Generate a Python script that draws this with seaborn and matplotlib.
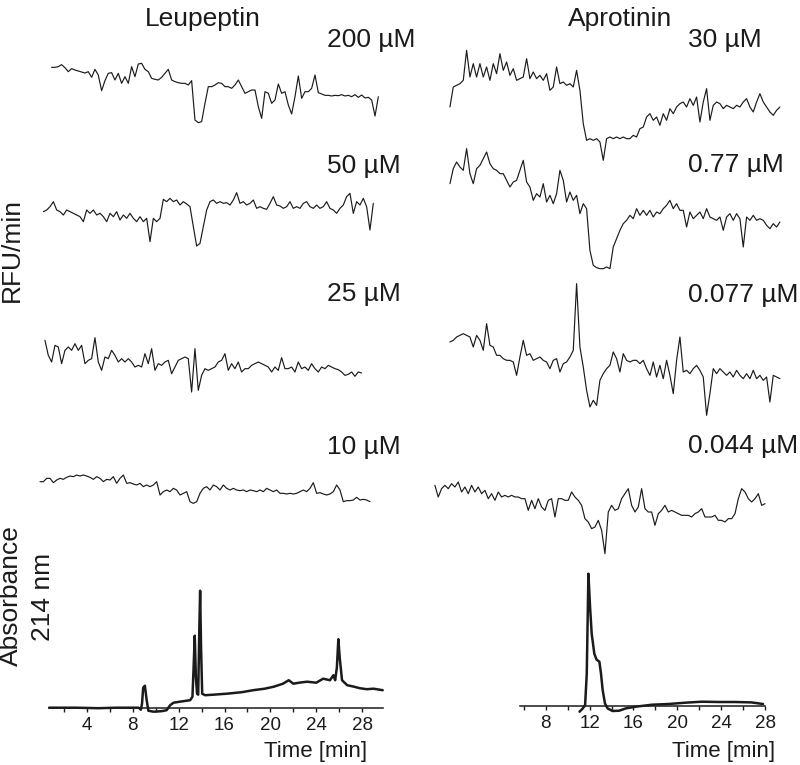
import numpy as np
import matplotlib
matplotlib.use('Agg')
import matplotlib.pyplot as plt
import seaborn as sns
from matplotlib.ticker import MultipleLocator

leu_200 = [68, 68, 70, 76, 67, 55, 64, 60, 57, 54,
           51, 55, 38, 62, 45, -2, 28, 50, 52, 30,
           50, 20, 40, 20, 70, 40, 78, 80, 62, 55,
           35, 32, 30, 38, 50, 62, 30, 25, 22, 20,
           20, 15, 28, -90, -98, -95, -40, 10, 10, 15,
           22, 20, 10, 10, 5, 15, 30, 10, -10, -5,
           0, 0, -50, -85, -5, -10, -40, -30, 18, -10,
           -5, -45, -72, -20, 42, -25, -5, -5, 5, 45,
           -8, -12, -16, -16, -18, -16, -17, -14, -18, -16,
           -20, -14, -22, -15, -24, -22, -30, -78, -20]
leu_50 = [-5, 0, 10, 25, 0, -5, -15, 0, -5, -10,
          -15, -20, -35, 0, -10, 0, -15, -10, -20, -35,
          -10, -20, -5, -30, -15, -25, -10, -25, -35, -20,
          -35, -25, -95, -25, -35, -25, 32, 25, 35, 25,
          30, 15, 25, 18, 10, -50, -108, -100, -50, 0,
          25, 30, 20, 25, 20, 22, 15, 30, 52, 20,
          25, 15, 20, 30, 5, 10, 5, 2, 20, 40,
          15, 12, 5, 10, 25, 5, 10, 5, 20, 25,
          10, 5, 15, 5, 10, 25, 5, 0, -10, 5,
          15, 40, 50, -10, 25, 15, 35, 10, -60, 20]
leu_25 = [80, 35, 15, 65, 60, 10, 50, 60, 50, 70,
          50, 65, 10, 20, 25, 88, 15, -10, 30, 25,
          50, 35, 15, 25, 15, 25, 15, 0, 5, 0,
          40, 10, 55, -10, 10, 5, 15, 20, -20, 0,
          20, 25, 30, 25, -75, 55, -70, -25, -5, -10,
          -5, 0, 15, 20, 40, -10, 10, -5, 15, -15,
          -5, -5, 5, 10, 15, 10, 5, 0, -15, 0,
          -10, 28, -5, -5, 0, -15, 15, -5, 0, -10,
          10, -5, -15, 0, -5, 5, 0, -5, -8, -15,
          -25, -22, -15, -28, -15, -18]
leu_10 = [25, 25, 35, 35, 22, 30, 35, 32, 38, 42,
          40, 45, 42, 45, 42, 38, 32, 40, 35, 25,
          32, 30, 40, 20, 35, 45, 20, 22, 18, 15,
          20, 10, 15, 10, 15, 25, -15, -5, 0, -5,
          5, 0, -15, -10, -5, -35, -40, -35, -10, 5,
          10, 0, 15, 10, 0, 15, 5, 0, 5, 0,
          -2, 0, -5, 0, -2, -5, 0, -5, 5, 0,
          -5, 0, -10, -10, -12, -10, -12, -10, -5, 0,
          -5, 5, 22, -10, -8, -12, -15, -12, -5, 15,
          0, -35, -32, -32, -30, -22, -30, -28, -30, -35]

apr_30 = [0, 60, 65, 70, 80, 170, 90, 130, 90, 130,
          90, 120, 80, 130, 100, 160, 110, 135, 95, 115,
          80, 85, 90, 145, 85, 105, 85, 95, 80, 100,
          50, 60, 120, 70, 75, 65, 70, 60, 110, 50,
          -50, -100, -95, -100, -95, -105, -160, -95, -90, -95,
          -90, -95, -90, -95, -95, -85, -90, -65, -60, -30,
          -20, -40, -30, -55, -20, -40, -5, -20, 0, 10,
          15, 0, 25, 5, 30, -45, 15, 55, -40, 5,
          15, 10, -5, 5, 0, -5, 5, 0, 15, 25,
          0, -15, 15, 40, 15, 0, -15, -25, -10, 0]
apr_077 = [100, 145, 165, 150, 140, 205, 130, 100, 145, 155,
           175, 195, 160, 145, 140, 130, 130, 110, 90, 105,
           110, 140, 170, 105, 90, 50, 70, 60, 100, 45,
           65, 40, 70, 140, 110, 45, 75, 50, 65, 10,
           40, 25, -100, -145, -152, -155, -155, -150, -155, -90,
           -65, -40, -20, -10, 5, -5, 25, 5, 20, 5,
           20, 0, 15, 10, 25, 35, 50, 25, 40, 20,
           20, -30, 15, -5, 5, 15, -5, 25, 0, -5,
           -10, 0, -40, 0, 10, -10, 10, -5, -90, 0,
           -10, 5, -10, -5, -10, -25, -35, -20, -30, -15]
apr_0077 = [45, 50, 60, 65, 70, 65, 60, 30, 65, 50,
            20, 100, 35, 30, 5, 5, -5, -10, -10, -15,
            -55, 0, 50, 5, 10, -10, -5, 0, -10, -15,
            -35, -10, -5, -45, -20, -15, 0, 20, 220, 30,
            -30, -100, -150, -130, -145, -70, -50, -35, -25, 15,
            -5, -45, 10, -10, -15, -10, -10, -20, -10, -35,
            -55, -15, -60, -25, -65, -10, -55, -110, -10, 60,
            -45, -40, -50, -35, -25, -40, -60, -175, -110, -35,
            -50, -35, -45, -55, -45, -60, -40, -55, -65, -50,
            -65, -40, -65, -55, -70, -60, -135, -55, -60, -65]
apr_0044 = [65, 30, 55, 65, 55, 70, 60, 75, 45, 60,
            40, 65, 45, 60, 40, 50, 25, 40, 20, 45,
            30, 35, 30, 35, 30, 30, 25, 25, -10, 20,
            -5, 25, 0, -10, 20, 25, -30, 25, 25, 20,
            20, 45, 30, 20, 5, -35, -45, -65, -60, -40,
            -70, -140, -15, 5, -10, -5, 25, 40, 55, 5,
            -15, 0, 55, -5, -15, -15, -55, -20, -10, 5,
            -15, -10, -15, -20, -25, -25, -25, -30, -20, -15,
            -5, -30, -30, -30, -25, -40, -40, -45, -35, -35,
            -20, 25, 55, 45, 25, 15, 25, 40, 5, 10]

# first and last time of each trace [min]
leu_span = {'200': (0.91, 29.42), '50': (0.19, 28.98), '25': (0.33, 27.96), '10': (-0.10, 28.69)}
apr_span = {'30': (-0.69, 29.17), '0.77': (-0.69, 29.17), '0.077': (-0.69, 29.17), '0.044': (-2.05, 27.82)}

# absorbance 214 nm chromatograms
leu_abs_t = [0.7, 3.0, 5.0, 6.6, 8.5, 8.7, 8.8, 8.9, 9.05, 9.2, 9.35, 9.8, 10.5, 10.95,
             11.25, 11.55, 12.1, 13.0, 13.2, 13.3, 13.4, 13.5, 13.6, 13.7, 13.8, 13.87,
             13.95, 14.05, 14.3, 15.0, 16.2, 17.5, 18.5, 19.5, 20.3, 21.1, 21.6, 22.0,
             22.5, 23.2, 24.0, 24.6, 25.2, 25.5, 25.65, 25.8, 25.93, 26.05, 26.25, 26.7,
             27.3, 27.8, 28.4, 29.0, 29.8]
leu_abs = [0, 0, -0.5, 0, 0, -2, 4, 20, 22, 8, -3, -4, -3.5, -2.5,
           2.5, 5, 6, 7.5, 11, 40, 72, 30, 14, 13, 80, 117,
           60, 14, 12.5, 13, 14, 15.5, 17.5, 19, 21, 24, 27.5, 24,
           25, 26, 25, 29, 27.5, 32.5, 27.5, 40, 68.5, 50, 27.5, 22.5,
           21, 19.5, 18.5, 19, 17.5]
apr_abs_t = [11.08, 11.38, 11.59, 11.74, 11.89, 12.04, 12.19, 12.43, 12.64, 12.89, 13.04,
             13.19, 13.4, 13.64, 14.09, 14.7, 15.3, 16.2, 17.7, 19.2, 20.73, 22.24, 23.75,
             25.25, 26.76, 27.82]
apr_abs = [-6, -2.7, 0.7, 32, 132, 99, 72, 52, 46, 44, 32,
           15.7, 2.3, -2.7, -5.3, -5, -2.7, -1, 1, 1.7, 3, 4, 3.7,
           3.7, 3.3, 1.7]

leu_ticks = [4, 8, 12, 16, 20, 24, 28]
apr_ticks = [8, 12, 16, 20, 24, 28]

sns.set_style('white')
plt.rcParams['font.family'] = ['Liberation Sans', 'DejaVu Sans']

W, H = 800, 765
fig = plt.figure(figsize=(8, 7.65), dpi=100)
ink = '#1b1b1b'


def box(x0, x1, ytop, ybot):
    return fig.add_axes([x0 / W, 1 - ybot / H, (x1 - x0) / W, (ybot - ytop) / H])


def ftext(x, y, s, **kw):
    fig.text(x / W, 1 - y / H, s, color=ink, **kw)


cols = [
    dict(x0=49.2, x1=382.7, xlim=(0.7, 29.8)),
    dict(x0=520.0, x1=765.0, xlim=(5.65, 27.82)),
]

# traces: (column, values, span, zero line in px)
traces = [
    (0, leu_200, leu_span['200'], 90),
    (0, leu_50, leu_span['50'], 210),
    (0, leu_25, leu_span['25'], 367),
    (0, leu_10, leu_span['10'], 490),
    (1, apr_30, apr_span['30'], 107),
    (1, apr_077, apr_span['0.77'], 217),
    (1, apr_0077, apr_span['0.077'], 357),
    (1, apr_0044, apr_span['0.044'], 507),
]

for c, vals, span, y0 in traces:
    col = cols[c]
    ax = box(col['x0'], col['x1'], y0 - 250 / 3, y0 + 200 / 3)
    t = np.linspace(span[0], span[1], len(vals))
    sns.lineplot(x=t, y=vals, ax=ax, color=ink, linewidth=0.85, estimator=None, clip_on=False)
    ax.set_xlim(*col['xlim'])
    ax.set_ylim(-200, 250)
    ax.axis('off')

# chromatograms
chrom = [
    (0, leu_abs_t, leu_abs, 707.7, 125, leu_ticks),
    (1, apr_abs_t, apr_abs, 705.7, 140, apr_ticks),
]
for c, t, a, base, top, ticks in chrom:
    col = cols[c]
    ax = box(col['x0'], col['x1'], base - top, base + 8)
    sns.lineplot(x=t, y=a, ax=ax, color=ink, linewidth=1.8, estimator=None, clip_on=False)
    ax.set_xlim(*col['xlim'])
    ax.set_ylim(-8, top)
    ax.patch.set_visible(False)
    for s in ['top', 'left', 'right']:
        ax.spines[s].set_visible(False)
    ax.spines['bottom'].set_position(('data', 0))
    ax.spines['bottom'].set_color(ink)
    ax.spines['bottom'].set_linewidth(1.1)
    ax.set_yticks([])
    ax.set_xticks(ticks)
    ax.xaxis.set_minor_locator(MultipleLocator(2))
    ax.tick_params(axis='x', which='both', direction='out', length=3, width=1,
                   color=ink, labelsize=13.5, labelcolor=ink, pad=4, bottom=True)
    ax.set_xlabel('')
    ax.set_ylabel('')

# labels
ftext(145, 26, 'Leupeptin', fontsize=19, ha='left', va='baseline')
ftext(568, 26, 'Aprotinin', fontsize=19, ha='left', va='baseline')
for y, s in zip([47, 173, 301, 454], ['200 µM', '50 µM', '25 µM', '10 µM']):
    ftext(327, y, s, fontsize=19, ha='left', va='baseline')
for y, s in zip([47, 172, 302, 453], ['30 µM', '0.77 µM', '0.077 µM', '0.044 µM']):
    ftext(688, y, s, fontsize=19, ha='left', va='baseline')
ftext(12, 250, 'RFU/min', fontsize=19, rotation=90, ha='center', va='center')
ftext(11, 596, 'Absorbance', fontsize=19, rotation=90, ha='center', va='center')
ftext(43, 597, '214 nm', fontsize=19, rotation=90, ha='center', va='center')
ftext(367, 752, 'Time [min]', fontsize=16, ha='right', va='center')
ftext(775, 752, 'Time [min]', fontsize=16, ha='right', va='center')

fig.savefig('out.png', dpi=100)
